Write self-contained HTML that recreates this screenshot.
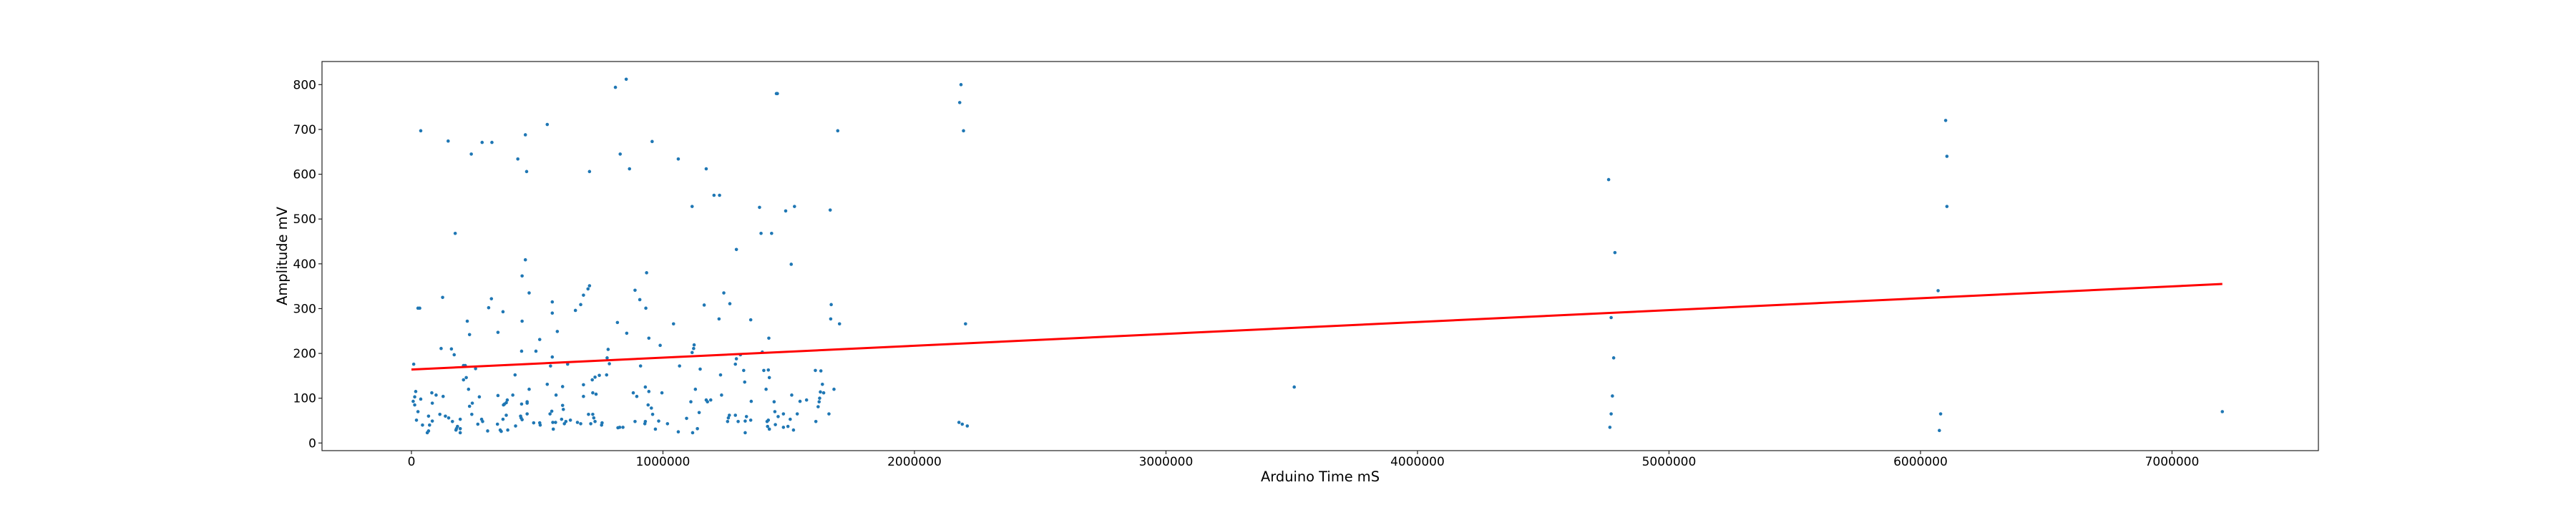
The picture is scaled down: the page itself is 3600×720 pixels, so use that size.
<!DOCTYPE html>
<html><head><meta charset="utf-8"><style>
html,body{margin:0;padding:0;background:#fff;}
svg{display:block;font-family:"DejaVu Sans","Liberation Sans",sans-serif;}
</style></head>
<body>
<svg id="chart" width="3600" height="720" xmlns="http://www.w3.org/2000/svg">
<rect x="0" y="0" width="3600" height="720" fill="#fff"/>
<g id="marks"></g>
<rect x="450" y="86" width="2790" height="544" fill="none" stroke="#222" stroke-width="1.2"/>
<g id="axes"></g>
<text x="1845" y="673" font-size="19.4" text-anchor="middle" fill="#000">Arduino Time mS</text>
<text x="0" y="0" font-size="19.4" text-anchor="middle" fill="#000" transform="translate(401,358) rotate(-90)">Amplitude mV</text>
</svg>
<script>
// time values in thousands of mS, amplitude in mV
const timeK = [37,146,174,238,281,320,423,453,458,540,708,811,830,854,867,957,1061,1116,1172,1203,1225,1384,1390,1432,1451,1455,1488,1523,1510,1665,1695,1292,453,440,468,440,935,708,702,684,673,652,560,560,580,510,495,438,468,318,307,364,344,124,26,33,222,231,118,159,170,207,214,255,9,207,218,227,412,889,908,932,819,856,944,989,1042,1164,1223,1242,1266,1349,1421,1667,1669,1702,1124,1122,1116,1308,1292,1288,1321,1325,1395,1401,1419,1423,1410,1229,1233,1148,1066,911,787,778,782,776,747,730,719,684,621,560,553,540,601,575,684,721,734,1606,1628,1634,1626,1639,1623,1621,1617,1680,1660,1608,1571,1545,1512,1534,1519,1506,1497,1479,1479,1458,1445,1442,1447,1419,1414,1416,1423,1351,1349,1332,1327,1327,1299,1288,1264,1257,1260,1172,1177,1190,1129,1111,1094,1144,1137,1118,1061,1018,996,983,970,959,954,941,944,930,896,882,889,930,928,841,828,821,758,756,730,725,721,704,713,673,660,632,614,608,604,601,597,573,562,564,558,551,512,510,486,460,460,460,438,440,436,434,414,403,383,377,381,377,370,366,364,357,353,342,344,303,283,279,270,264,240,242,231,194,194,194,183,179,177,163,148,135,113,126,98,81,83,83,72,68,68,63,44,37,26,20,17,13,13,7,2177,2190,2210,2185,2180,2195,2203,3510,4760,4785,4770,4780,4775,4770,4765,6070,6080,6075,6100,6105,6105,7200];
const amplitude = [697,674,468,645,671,671,634,688,606,711,606,794,645,812,612,673,634,528,612,553,553,526,468,468,780,780,518,528,399,520,697,432,409,373,335,272,380,351,344,330,309,296,315,290,249,231,205,205,120,322,302,293,247,325,301,301,272,242,211,210,197,173,173,166,176,141,146,120,152,341,320,301,269,245,234,218,266,308,277,335,311,275,234,277,309,266,219,211,202,197,188,176,162,136,203,162,163,146,120,152,107,165,172,172,177,190,209,152,151,147,141,130,176,192,172,131,126,107,104,112,109,162,161,131,114,112,100,92,81,120,65,48,96,93,107,65,29,53,37,35,65,59,70,92,41,51,48,37,31,93,51,59,49,23,48,62,62,48,56,96,92,96,120,92,55,68,32,23,25,43,112,49,31,64,78,85,115,125,104,112,48,48,43,35,35,34,45,40,48,56,64,64,43,43,46,51,48,43,75,84,53,46,46,31,71,65,40,45,45,65,89,92,87,52,56,60,38,107,29,62,96,90,87,85,53,26,29,42,106,27,48,53,103,42,64,89,82,53,32,23,37,32,29,48,56,60,64,104,107,112,89,49,40,60,27,23,40,98,70,51,115,103,85,93,46,42,38,800,760,697,266,125,588,425,280,190,105,65,35,340,65,28,720,640,528,70];
const xTickValues = [0,1000000,2000000,3000000,4000000,5000000,6000000,7000000];
const xTickLabels = ["0","1000000","2000000","3000000","4000000","5000000","6000000","7000000"];
const yTickValues = [0,100,200,300,400,500,600,700,800];
const yTickLabels = ["0","100","200","300","400","500","600","700","800"];
const fitStart = [0,164];
const fitEnd = [7200000,355];

const NS="http://www.w3.org/2000/svg";
const L=450,R=3240,T=86,B=630;
const xMin=-355600,xMax=7582000,yMin=-17,yMax=851.6;
function sx(v){return L+(v-xMin)/(xMax-xMin)*(R-L);}
function sy(v){return B-(v-yMin)/(yMax-yMin)*(B-T);}
function mk(tag,attrs){const e=document.createElementNS(NS,tag);for(const k in attrs)e.setAttribute(k,attrs[k]);return e;}
const marks=document.getElementById('marks');
const axes=document.getElementById('axes');
for(let i=0;i<timeK.length;i++){
  const c=mk('circle',{cx:sx(timeK[i]*1000),cy:sy(amplitude[i]),r:2.3,fill:'#1f77b4'});
  
  
  marks.appendChild(c);
}
const line=mk('line',{x1:sx(fitStart[0]),y1:sy(fitStart[1]),x2:sx(fitEnd[0]),y2:sy(fitEnd[1]),stroke:'#ff0000','stroke-width':3});


marks.appendChild(line);
xTickValues.forEach((v,i)=>{
  const x=sx(v);
  const t=mk('line',{x1:x,y1:B,x2:x,y2:B+5,stroke:'#222','stroke-width':1.2});
  
  
  axes.appendChild(t);
  const tx=mk('text',{x:x,y:B+21,'font-size':17,'text-anchor':'middle',fill:'#000'});
  tx.textContent=xTickLabels[i];
  
  
  axes.appendChild(tx);
});
yTickValues.forEach((v,i)=>{
  const y=sy(v);
  const t=mk('line',{x1:L-5,y1:y,x2:L,y2:y,stroke:'#222','stroke-width':1.2});
  
  
  axes.appendChild(t);
  const tx=mk('text',{x:L-8,y:y+6,'font-size':17,'text-anchor':'end',fill:'#000'});
  tx.textContent=yTickLabels[i];
  
  
  axes.appendChild(tx);
});
</script>
</body></html>
